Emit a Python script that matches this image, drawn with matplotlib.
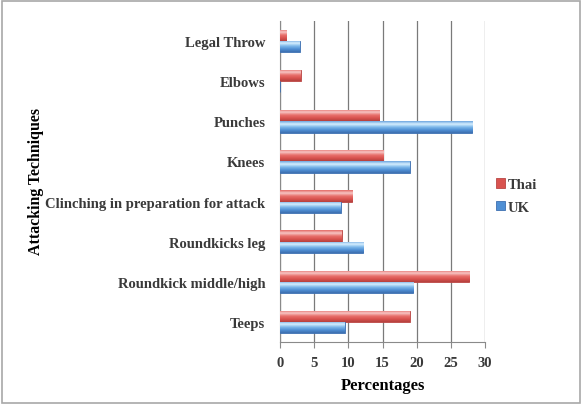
import matplotlib.pyplot as plt
import numpy as np
from matplotlib.colors import LinearSegmentedColormap
from matplotlib.patches import Rectangle

# data, bottom to top as drawn
techniques = ["Teeps", "Roundkick middle/high", "Roundkicks leg",
              "Clinching in preparation for attack", "Knees", "Punches",
              "Elbows", "Legal Throw"]
thai = [19.0, 27.7, 9.0, 10.6, 15.1, 14.5, 3.0, 0.9]
uk = [9.5, 19.5, 12.2, 8.9, 19.0, 28.1, 0.0, 2.9]
x_ticks = [0, 5, 10, 15, 20, 25, 30]

plt.rcParams["font.family"] = ["Liberation Serif", "DejaVu Serif"]

fig = plt.figure(figsize=(5.86, 4.06), dpi=100)
fig.patches.append(Rectangle((0.004, 0.006), 0.985, 0.99, transform=fig.transFigure,
                             fill=False, edgecolor="#a8a8a8", linewidth=1.2))
ax = fig.add_axes([280 / 586, (406 - 343) / 406, 205 / 586, 321 / 406])

red_cmap = LinearSegmentedColormap.from_list(
    "red", ["#b5413e", "#d9534f", "#e8706c", "#f7c6c4", "#e46a66"])
blue_cmap = LinearSegmentedColormap.from_list(
    "blue", ["#3d6fb0", "#4f8fd4", "#7db8ea", "#d6efff", "#6fa6df"])

y = np.arange(len(techniques))
h = 0.28
bars_thai = ax.barh(y + h / 2, thai, height=h, color="#d9534f", edgecolor="#b94744",
                    linewidth=0.6, label="Thai", zorder=3)
bars_uk = ax.barh(y - h / 2, uk, height=h, color="#4f8fd4", edgecolor="#3d6fb0",
                  linewidth=0.6, label="UK", zorder=3)

# glossy vertical gradient on each bar
grad = np.linspace(0, 1, 64).reshape(-1, 1)
for bars, cmap in ((bars_thai, red_cmap), (bars_uk, blue_cmap)):
    for p in bars:
        if p.get_width() <= 0:
            continue
        x0, y0 = p.get_x(), p.get_y()
        im = ax.imshow(grad, cmap=cmap, aspect="auto", origin="lower",
                       extent=(x0, x0 + p.get_width(), y0, y0 + p.get_height()),
                       zorder=3.5)
        im.set_clip_path(p)

ax.set_xlim(0, 30)
ax.set_ylim(-0.5, len(techniques) - 0.5)
ax.set_xticks(x_ticks)
ax.set_yticks(y)
ax.set_yticklabels(techniques)
ax.grid(axis="x", color="#7a7a7a", linewidth=0.9, zorder=0)
for side in ("top", "right"):
    ax.spines[side].set_visible(False)
for side in ("left", "bottom"):
    ax.spines[side].set_color("#8a8a8a")
ax.tick_params(axis="y", length=0, pad=10.5, labelsize=10.5, colors="#3a3a3a")
ax.tick_params(axis="x", length=4, direction="out", color="#8a8a8a",
               labelsize=10.5, colors="#3a3a3a", pad=6)
for lab in ax.get_xticklabels() + ax.get_yticklabels():
    lab.set_fontweight("bold")

ax.set_xlabel("Percentages", fontsize=12, fontweight="bold", labelpad=6)
fig.text(36 / 586, 1 - 182 / 406, "Attacking Techniques", rotation=90,
         ha="center", va="center", fontsize=11.4, fontweight="bold")

handles, labels = ax.get_legend_handles_labels()
ax.legend(handles, labels, loc="center left", bbox_to_anchor=(0.99, 0.455),
          frameon=False, handlelength=0.6, handleheight=0.6,
          handletextpad=0.2, labelspacing=0.65,
          prop={"weight": "bold", "size": 10.5})
for t in ax.get_legend().get_texts():
    t.set_color("#3a3a3a")

fig.savefig("out.png", dpi=100)
